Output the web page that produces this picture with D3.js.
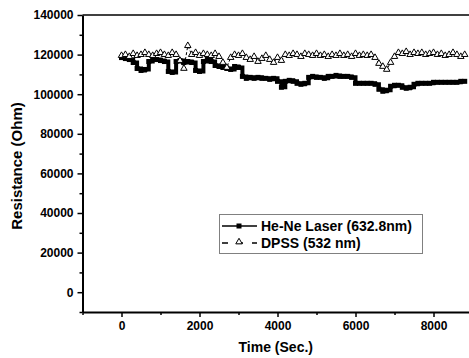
<!DOCTYPE html>
<html>
<head>
<meta charset="utf-8">
<script src="https://cdn.jsdelivr.net/npm/d3@7"></script>
<style>
  body { margin: 0; background: #fff; }
  svg text { font-family: "Liberation Sans", Arial, sans-serif; font-weight: bold; fill: #000; }
</style>
</head>
<body>
<svg id="chart" width="469" height="358"></svg>
<script>
// time stamps (s), shared by both series
const times = [0, 100, 200, 300, 400, 500, 600, 700, 800, 900,
  1000, 1100, 1200, 1300, 1400, 1500, 1600, 1700, 1800, 1900,
  2000, 2100, 2200, 2300, 2400, 2500, 2600, 2700, 2800, 2900,
  3000, 3100, 3200, 3300, 3400, 3500, 3600, 3700, 3800, 3900,
  4000, 4100, 4200, 4300, 4400, 4500, 4600, 4700, 4800, 4900,
  5000, 5100, 5200, 5300, 5400, 5500, 5600, 5700, 5800, 5900,
  6000, 6100, 6200, 6300, 6400, 6500, 6600, 6700, 6800, 6900,
  7000, 7100, 7200, 7300, 7400, 7500, 7600, 7700, 7800, 7900,
  8000, 8100, 8200, 8300, 8400, 8500, 8600, 8700, 8800];

// He-Ne Laser (632.8nm)
const heNe = [118500, 118000, 117500, 116000, 113000, 112000, 112500, 116500, 117500, 117500,
  117000, 116500, 111500, 111000, 116500, 117000, 116000, 116500, 116000, 112000,
  111500, 116500, 117500, 116500, 114500, 114000, 113500, 113000, 112500, 114000,
  113500, 109000, 108000, 108500, 108000, 108500, 108000, 108000, 107500, 108000,
  106500, 103500, 106500, 107000, 106500, 105500, 105000, 105500, 108500, 109000,
  108500, 108500, 108000, 109000, 109000, 109500, 109000, 109000, 109000, 108500,
  105500, 105500, 105500, 105500, 105500, 105000, 102500, 101500, 102000, 104000,
  104500, 104500, 103500, 103000, 103500, 105000, 105500, 105500, 105500, 105500,
  106000, 106000, 106000, 106000, 106000, 106000, 106000, 106500, 106500];

// DPSS (532 nm)
const dpss = [119500, 120000, 119000, 120500, 119500, 120000, 121000, 120000, 119500, 120500,
  121000, 120000, 119500, 121000, 120000, 117000, 113000, 124500, 120000, 121000,
  119500, 120500, 120000, 119500, 120500, 119000, 116000, 113500, 118500, 120000,
  119500, 120500, 118500, 117500, 119000, 116500, 118000, 119500, 117500, 116000,
  118500, 117000, 120000, 119500, 120500, 120000, 119000, 120500, 120000, 119500,
  120500, 119500, 120000, 119000, 120000, 119500, 120500, 119500, 120000, 119000,
  120500, 119500, 120000, 119500, 120000, 118500, 115500, 114000, 112500, 116000,
  119000, 121000, 120500, 121500, 120000, 121000, 120500, 121000, 120000, 120500,
  121000, 120000, 120500, 119500, 120000, 121000, 120000, 119000, 120000];

const xTicks = [0, 2000, 4000, 6000, 8000];
const xMinor = [-1000, 1000, 3000, 5000, 7000];
const yTicks = [0, 20000, 40000, 60000, 80000, 100000, 120000, 140000];
const yMinor = [-10000, 10000, 30000, 50000, 70000, 90000, 110000, 130000];
const seriesNames = ['He-Ne Laser (632.8nm)', 'DPSS (532 nm)'];

const svg = d3.select('#chart');
const plotL = 82.5, plotR = 469, plotT = 15, plotB = 312;

const x = d3.scaleLinear().domain([-1000, 8910]).range([plotL, plotR]);
const y = d3.scaleLinear().domain([-10000, 140000]).range([plotB, plotT]);

// top frame line
svg.append('line')
  .attr('x1', plotL).attr('x2', plotR)
  .attr('y1', plotT).attr('y2', plotT)
  .attr('stroke', '#000').attr('stroke-width', 1.5);

// minor ticks
svg.append('g')
  .attr('transform', `translate(${plotL},0)`)
  .call(d3.axisLeft(y).tickValues(yMinor).tickSize(3).tickFormat(''))
  .call(g => g.select('.domain').remove())
  .selectAll('line').attr('stroke-width', 1.5);
svg.append('g')
  .attr('transform', `translate(0,${plotB})`)
  .call(d3.axisBottom(x).tickValues(xMinor).tickSize(3).tickFormat(''))
  .call(g => g.select('.domain').remove())
  .selectAll('line').attr('stroke-width', 1.5);

// main axes
let yAx = svg.append('g')
  .attr('transform', `translate(${plotL},0)`)
  .call(d3.axisLeft(y).tickValues(yTicks).tickSize(5).tickSizeOuter(0).tickPadding(4).tickFormat(d3.format('d')));
let xAx = svg.append('g')
  .attr('transform', `translate(0,${plotB})`)
  .call(d3.axisBottom(x).tickValues(xTicks).tickSize(5).tickSizeOuter(0).tickPadding(4).tickFormat(d3.format('d')));
[yAx, xAx].forEach(ax => {
  ax.select('.domain').attr('stroke-width', 2);
  ax.selectAll('.tick line').attr('stroke-width', 1.5);
  ax.selectAll('text').attr('font-size', '12px').style('font-family', '"Liberation Sans", Arial, sans-serif').style('font-weight', 'bold');
});

// axis titles
svg.append('text')
  .attr('x', (plotL + plotR) / 2).attr('y', 352)
  .attr('text-anchor', 'middle')
  .attr('font-size', '14px')
  .text('Time (Sec.)');
svg.append('text')
  .attr('transform', 'translate(22,166) rotate(-90)')
  .attr('text-anchor', 'middle')
  .attr('font-size', '15px')
  .text('Resistance (Ohm)');

const heNeData = times.map((t, i) => ({ x: t, y: heNe[i] }));
const dpssData = times.map((t, i) => ({ x: t, y: dpss[i] }));

const line = d3.line().x(d => x(d.x)).y(d => y(d.y));
const stepLine = d3.line().curve(d3.curveStepAfter).x(d => x(d.x)).y(d => y(d.y));

// He-Ne series
svg.append('path')
  .attr('d', stepLine(heNeData))
  .attr('fill', 'none')
  .attr('stroke', '#000')
  .attr('stroke-width', 4);
svg.selectAll('.sq')
  .data(heNeData)
  .join('rect')
  .attr('class', 'sq')
  .attr('x', d => x(d.x) - 2.5)
  .attr('y', d => y(d.y) - 2.5)
  .attr('width', 5).attr('height', 5)
  .attr('fill', '#000');

// DPSS series
const tri = d3.symbol().type(d3.symbolTriangle).size(18);
svg.append('path')
  .attr('d', line(dpssData))
  .attr('fill', 'none')
  .attr('stroke', '#000')
  .attr('stroke-width', 1)
  .attr('stroke-dasharray', '3,2');
svg.selectAll('.tri')
  .data(dpssData)
  .join('path')
  .attr('class', 'tri')
  .attr('transform', d => `translate(${x(d.x)},${y(d.y)})`)
  .attr('d', tri)
  .attr('fill', '#fff')
  .attr('stroke', '#000')
  .attr('stroke-width', 1);

// legend
const lg = svg.append('g');
lg.append('rect')
  .attr('x', 219.5).attr('y', 214.5)
  .attr('width', 203).attr('height', 39)
  .attr('fill', '#fff')
  .attr('stroke', '#000')
  .attr('stroke-width', 1)
  .attr('stroke-dasharray', '1,1');
lg.append('line')
  .attr('x1', 222).attr('x2', 257).attr('y1', 226).attr('y2', 226)
  .attr('stroke', '#000').attr('stroke-width', 1.5);
lg.append('rect')
  .attr('x', 236.5).attr('y', 223.5).attr('width', 5).attr('height', 5)
  .attr('fill', '#000');
lg.append('line')
  .attr('x1', 222).attr('x2', 257).attr('y1', 243).attr('y2', 243)
  .attr('stroke', '#000').attr('stroke-width', 1.5)
  .attr('stroke-dasharray', '6,9');
lg.append('path')
  .attr('transform', 'translate(239,242)')
  .attr('d', tri)
  .attr('fill', '#fff')
  .attr('stroke', '#000');
lg.selectAll('.lt')
  .data(seriesNames)
  .join('text')
  .attr('class', 'lt')
  .attr('x', 261)
  .attr('y', (d, i) => 231 + i * 17)
  .attr('font-size', '14px')
  .text(d => d);
</script>
</body>
</html>
